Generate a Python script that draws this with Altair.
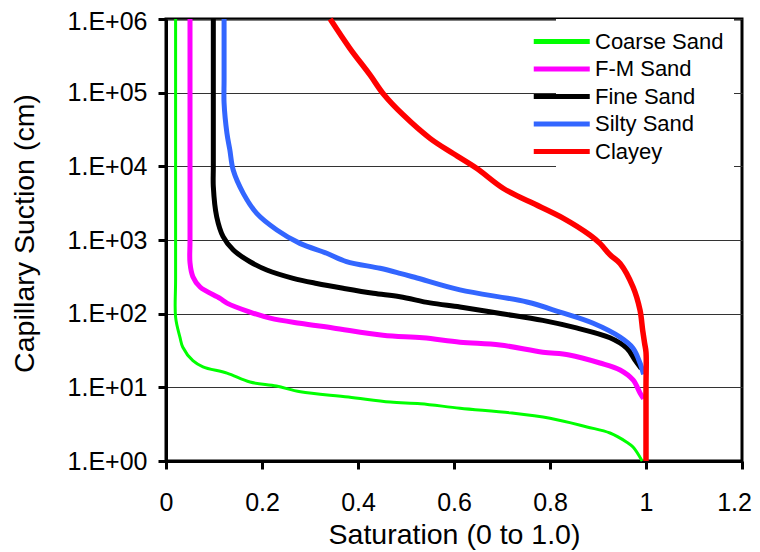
import altair as alt
import pandas as pd

series = ["Coarse Sand", "F-M Sand", "Fine Sand", "Silty Sand", "Clayey"]
colors = ["#00FF00", "#FF00FF", "#000000", "#3366FF", "#FF0000"]
widths = [3, 5, 5, 5, 5.5]

coarse_x = [0.02, 0.02, 0.02, 0.029, 0.035, 0.056, 0.077, 0.127, 0.175, 0.23, 0.28, 0.38, 0.467, 0.53, 0.6125, 0.717, 0.80, 0.877, 0.925, 0.96, 0.973, 0.992]
coarse_y = [1e6, 300, 90, 48, 35, 23, 19, 15.6, 11.8, 10.4, 8.7, 7.4, 6.3, 6.0, 5.2, 4.5, 3.8, 2.9, 2.4, 1.8, 1.55, 1.0]

fm_x = [0.05, 0.05, 0.05, 0.056, 0.071, 0.1125, 0.127, 0.175, 0.217, 0.279, 0.348, 0.452, 0.535, 0.6125, 0.696, 0.785, 0.84, 0.904, 0.946, 0.973, 0.9875, 0.995]
fm_y = [1e6, 1000, 490, 318, 230, 161, 139, 105, 87, 74, 64, 51, 47, 41, 37.6, 30, 27.5, 21.4, 17.2, 12.6, 8.4, 7]

fine_x = [0.0986, 0.0986, 0.0986, 0.1056, 0.119, 0.1403, 0.175, 0.21, 0.265, 0.314, 0.369, 0.432, 0.4875, 0.55, 0.6125, 0.70, 0.785, 0.855, 0.925, 0.96, 0.977, 0.99]
fine_y = [1e6, 10000, 5300, 2070, 1110, 731, 507, 392, 302, 257, 221, 189, 170, 140, 123, 100, 81, 64, 47, 34, 23.5, 18]

silty_x = [0.121, 0.121, 0.121, 0.127, 0.133, 0.140, 0.161, 0.189, 0.231, 0.279, 0.335, 0.376, 0.446, 0.4875, 0.523, 0.6125, 0.752, 0.821, 0.89, 0.946, 0.973, 0.9875, 0.995]
silty_y = [1e6, 150000, 72000, 28000, 16700, 8900, 4300, 2300, 1370, 900, 660, 510, 413, 353, 305, 210, 144, 105, 74, 48, 34, 21.4, 15]

clay_x = [0.342, 0.383, 0.425, 0.453, 0.494, 0.55, 0.599, 0.647, 0.703, 0.758, 0.828, 0.883, 0.904, 0.925, 0.946, 0.973, 0.9875, 0.993, 0.997, 1.0, 1.0, 1.0]
clay_y = [1e6, 400000, 174000, 96000, 50000, 24000, 14800, 9400, 5000, 3300, 1970, 1170, 900, 630, 480, 230, 112, 60, 40, 30, 10, 1.0]

rows = []
for name, xs, ys in zip(series,
                        [coarse_x, fm_x, fine_x, silty_x, clay_x],
                        [coarse_y, fm_y, fine_y, silty_y, clay_y]):
    for i, (xv, yv) in enumerate(zip(xs, ys)):
        rows.append({"series": name, "sat": xv, "suction": yv, "i": i})
df = pd.DataFrame(rows)

x_ticks = [0, 0.2, 0.4, 0.6, 0.8, 1.0, 1.2]
y_ticks = [1, 10, 100, 1000, 10000, 100000, 1000000]

FONT = "Liberation Sans"

base = alt.Chart(df).encode(
    x=alt.X("sat:Q",
            scale=alt.Scale(domain=[0, 1.2], nice=False, zero=False),
            axis=alt.Axis(values=x_ticks, format=".1~f", title="Saturation (0 to 1.0)",
                          grid=False, labelFlush=False, labelPadding=21,
                          labelOffset={"condition": {"test": "datum.value > 1.1", "value": -8}, "value": 0},
                          titleY=82, titleBaseline="alphabetic")),
    y=alt.Y("suction:Q",
            scale=alt.Scale(type="log", domain=[1, 1e6], nice=False),
            axis=alt.Axis(values=y_ticks, title="Capillary Suction (cm)",
                          labelExpr="'1.E+0' + round(log(datum.value)/LN10)",
                          labelOffset={"condition": {"test": "datum.value > 500000", "value": 2}, "value": 0},
                          grid=True, gridColor="#333333", gridWidth=1.2, gridOpacity=1,
                          labelFlush=False, labelPadding=11, titleX=-133, titleY=214,
                          titleBaseline="alphabetic", titleAlign="center")),
    color=alt.Color("series:N",
                    scale=alt.Scale(domain=series, range=colors),
                    legend=alt.Legend(title=None, orient="none", legendX=390, legendY=0,
                                      fillColor="white", padding=10,
                                      symbolType="M-4.475,0H1.125", symbolSize=400,
                                      symbolStrokeWidth=5, labelOffset=4, rowPadding=3.5,
                                      labelFont=FONT, labelFontSize=22, labelColor="black")),
    order=alt.Order("i:Q"),
)

layers = [
    base.transform_filter(alt.datum.series == s).mark_line(
        strokeWidth=w, strokeJoin="round", interpolate="catmull-rom")
    for s, w in zip(series, widths)
]

chart = alt.layer(*layers).properties(
    width=576, height=442,
    autosize=alt.AutoSizeParams(type="none"),
    padding={"left": 158, "top": 11, "right": 10, "bottom": 92},
).configure_view(
    stroke="black", strokeWidth=3
).configure_axis(
    domainColor="black", domainWidth=3,
    tickColor="black", tickWidth=3, tickSize=8,
    labelFont=FONT, labelFontSize=25, labelColor="black",
    titleFont=FONT, titleFontSize=28.5, titleFontWeight="normal", titleColor="black",
)

chart.save("out.html", embed_options={"renderer": "svg", "actions": False})
